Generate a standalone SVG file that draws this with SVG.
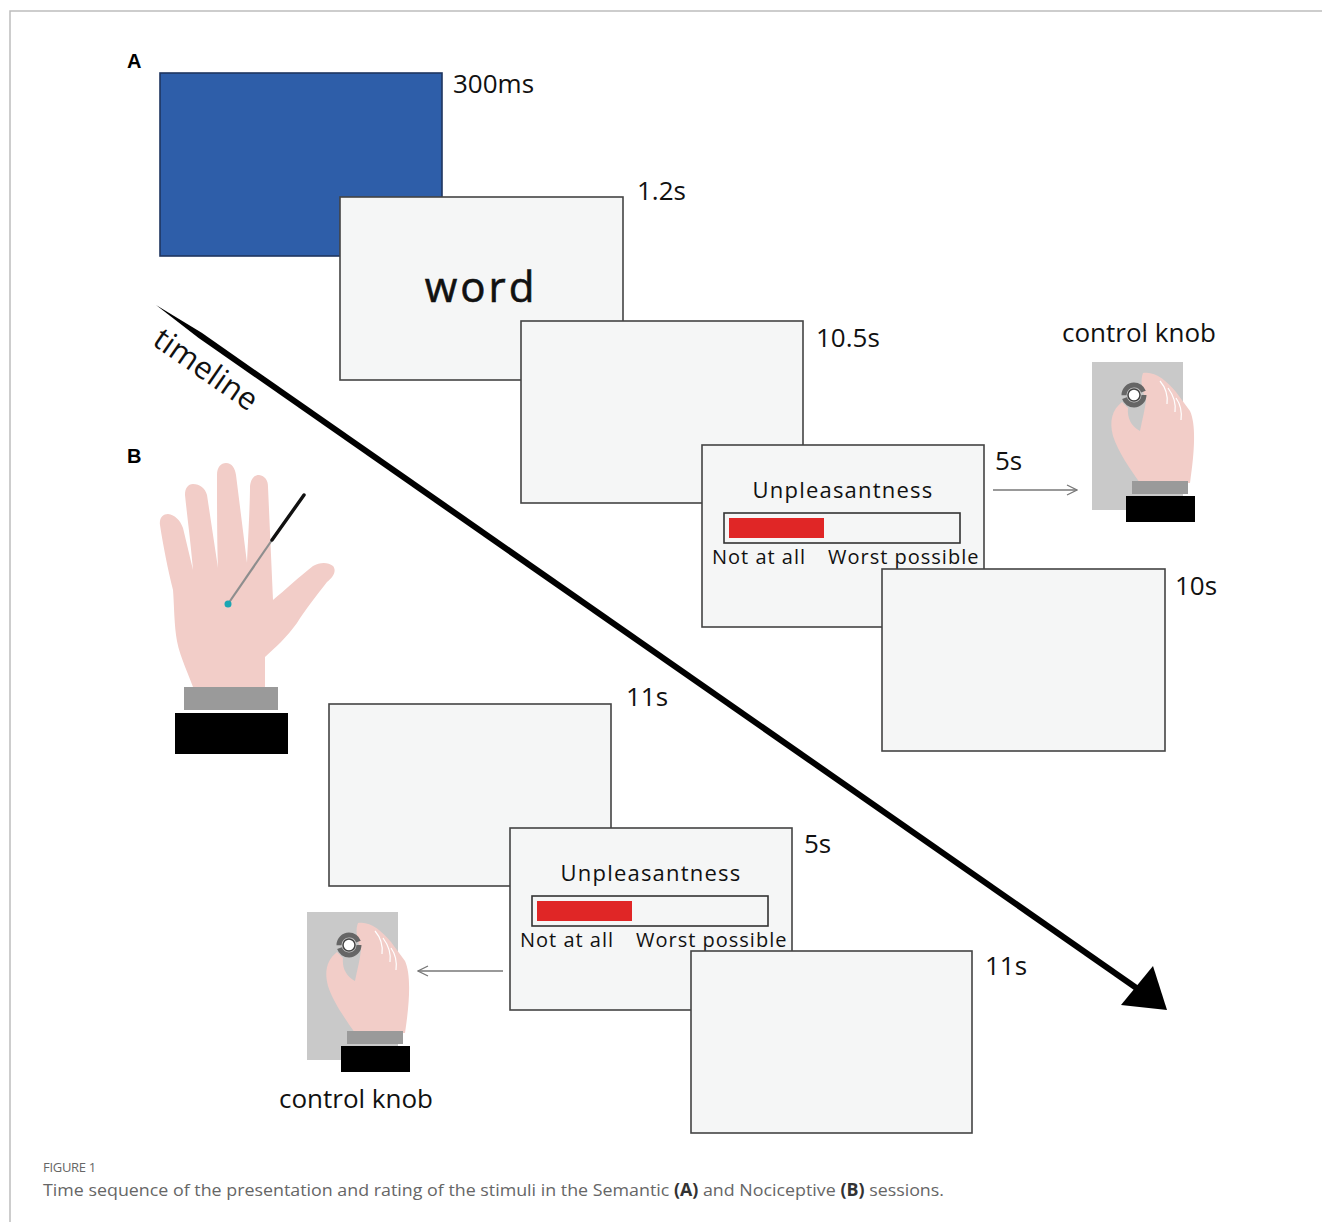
<svg xmlns="http://www.w3.org/2000/svg" xmlns:xlink="http://www.w3.org/1999/xlink" width="1322" height="1222" viewBox="0 0 1322 1222">
<style>
.scr{fill:#F5F6F6;stroke:#444;stroke-width:1.6}
.lbl{font-family:"Open Sans","DejaVu Sans",sans-serif;fill:#111}
.t26{font-size:26px}
.pan{font-family:"Liberation Sans",Arial,sans-serif;font-weight:bold;font-size:20px;fill:#000}
.conn{stroke:#777;stroke-width:1.3;fill:none}
.skin{fill:#F2CDC8}
.cap{font-family:"Open Sans","Liberation Sans",sans-serif;fill:#666}
</style>
<defs>
<marker id="open" viewBox="0 0 12 12" refX="11" refY="6" markerWidth="12" markerHeight="12" markerUnits="userSpaceOnUse" orient="auto">
<path d="M1,1 L11,6 L1,11" fill="none" stroke="#777" stroke-width="1.3"/>
</marker>
<g id="knobImg">
<rect x="1092" y="362" width="91" height="148" fill="#C9C9C9"/>
<path class="skin" d="M1143,373 C1155,371 1166,380 1176,392 L1190,411 C1196,424 1195,450 1190,483 L1140,483 C1131,470 1118,452 1113,436 C1109,421 1112,410 1122,402 L1128,408 C1127,418 1131,426 1140,431 C1142,420 1145,410 1146,400 C1142,390 1140,381 1143,373 Z"/>
<path d="M1160,381 C1166,388 1168,396 1167,404 M1168,388 C1174,396 1176,404 1175,412 M1176,398 C1181,405 1182,412 1181,420" fill="none" stroke="#fff" stroke-width="1.2"/>
<circle cx="1134" cy="395" r="10" fill="none" stroke="#666" stroke-width="5" stroke-dasharray="28 3 28 4"/>
<circle cx="1134" cy="395" r="6" fill="#fff" stroke="#444" stroke-width="1.5"/>
<rect x="1132" y="481" width="56" height="13" fill="#9A9A9A"/>
<rect x="1126" y="496" width="69" height="26" fill="#000"/>
</g>
</defs>
<rect x="0" y="0" width="1322" height="1222" fill="#fff"/>
<g id="frame">
<path d="M10,1222 L10,11 L1322,11" fill="none" stroke="#BDBDBD" stroke-width="1.5"/>
</g>

<text class="pan" x="127" y="68">A</text>
<text class="pan" x="127" y="463">B</text>

<g id="screen-blue">
<rect x="160" y="73" width="282" height="183" fill="#2E5EA9" stroke="#1E355F" stroke-width="1.6"/>
<text class="lbl t26" x="453" y="93">300ms</text>
</g>
<g id="screen-word">
<rect class="scr" x="340" y="197" width="283" height="183"/>
<text class="lbl" x="481" y="302" font-size="42" letter-spacing="3" text-anchor="middle" stroke="#111" stroke-width="0.6">word</text>
<text class="lbl t26" x="637" y="200">1.2s</text>
</g>
<g id="screen-blank1">
<rect class="scr" x="521" y="321" width="282" height="182"/>
<text class="lbl t26" x="816" y="347">10.5s</text>
</g>
<g id="screen-rateA">
<rect class="scr" x="702" y="445" width="282" height="182"/>
<text class="lbl" x="843" y="498" font-size="22" letter-spacing="1.2" text-anchor="middle">Unpleasantness</text>
<rect x="724" y="513" width="236" height="30" fill="#F5F6F6" stroke="#333" stroke-width="1.6"/>
<rect x="729" y="518" width="95" height="20" fill="#E02626"/>
<text class="lbl" x="712" y="564" font-size="20" letter-spacing="1">Not at all</text>
<text class="lbl" x="828" y="564" font-size="20" letter-spacing="1">Worst possible</text>
<text class="lbl t26" x="995" y="470">5s</text>
</g>
<g id="screen-blank2">
<rect class="scr" x="882" y="569" width="283" height="182"/>
<text class="lbl t26" x="1175" y="595">10s</text>
</g>

<g id="knobA">
<text class="lbl t26" x="1139" y="342" text-anchor="middle">control knob</text>
<use xlink:href="#knobImg" href="#knobImg"/>
</g>

<g id="handB">
<path class="skin" d="M193,687 C186,668 178,652 176,635 C174,618 174,602 173,590 C168,570 163,545 160,525 C159,518 163,514 168,514 C175,515 180,520 183,528 L193,570 C191,545 187,515 185,495 C185,488 188,484 193,484 C200,484 205,488 207,495 L218,568 C217,540 217,500 217,475 C217,467 221,463 226,463 C232,463 235,468 236,475 L247,563 C248,540 250,505 250,486 C251,479 254,475 259,475 C265,476 268,480 268,487 L273,600 C285,590 300,576 313,566 C320,562 328,562 333,566 C337,571 333,577 327,582 C317,595 305,610 297,623 C287,637 275,648 265,657 L265,687 Z"/>
<line x1="228" y1="604" x2="272" y2="540" stroke="#8E8E8E" stroke-width="2.2"/>
<line x1="272" y1="540" x2="304" y2="495" stroke="#111" stroke-width="3.4" stroke-linecap="round"/>
<circle cx="228" cy="604" r="3.5" fill="#1BA6B3"/>
<rect x="184" y="687" width="94" height="23" fill="#9A9A9A"/>
<rect x="175" y="713" width="113" height="41" fill="#000"/>
</g>

<g id="screen-blank3">
<rect class="scr" x="329" y="704" width="282" height="182"/>
<text class="lbl t26" x="626" y="706">11s</text>
</g>
<g id="screen-rateB">
<rect class="scr" x="510" y="828" width="282" height="182"/>
<text class="lbl" x="651" y="881" font-size="22" letter-spacing="1.2" text-anchor="middle">Unpleasantness</text>
<rect x="532" y="896" width="236" height="30" fill="#F5F6F6" stroke="#333" stroke-width="1.6"/>
<rect x="537" y="901" width="95" height="20" fill="#E02626"/>
<text class="lbl" x="520" y="947" font-size="20" letter-spacing="1">Not at all</text>
<text class="lbl" x="636" y="947" font-size="20" letter-spacing="1">Worst possible</text>
<text class="lbl t26" x="804" y="853">5s</text>
</g>
<g id="screen-blank4">
<rect class="scr" x="691" y="951" width="281" height="182"/>
<text class="lbl t26" x="985" y="975">11s</text>
</g>

<g id="knobB">
<use xlink:href="#knobImg" href="#knobImg" transform="translate(-785,550)"/>
<text class="lbl t26" x="356" y="1108" text-anchor="middle">control knob</text>
</g>

<g id="timeline">
<polygon points="156,305 201.7,332.8 1141.7,987.9 1138.3,992.9 198.3,337.8" fill="#000"/>
<polygon points="1121,1005 1153,966 1167,1010" fill="#000"/>
<text class="lbl" x="151" y="344" font-size="31" letter-spacing="0.3" transform="rotate(34.8 151 344)">timeline</text>
</g>

<g id="connectors">
<line class="conn" x1="993" y1="490" x2="1077" y2="490" marker-end="url(#open)"/>
<line class="conn" x1="503" y1="971" x2="418" y2="971" marker-end="url(#open)"/>
</g>

<g id="caption">
<text class="cap" x="43" y="1172" font-size="13" letter-spacing="-0.3">FIGURE 1</text>
<text class="cap" x="43" y="1196" font-size="17" fill="#555" textLength="901" lengthAdjust="spacingAndGlyphs">Time sequence of the presentation and rating of the stimuli in the Semantic <tspan font-weight="bold" fill="#333">(A)</tspan> and Nociceptive <tspan font-weight="bold" fill="#333">(B)</tspan> sessions.</text>
</g>
</svg>
